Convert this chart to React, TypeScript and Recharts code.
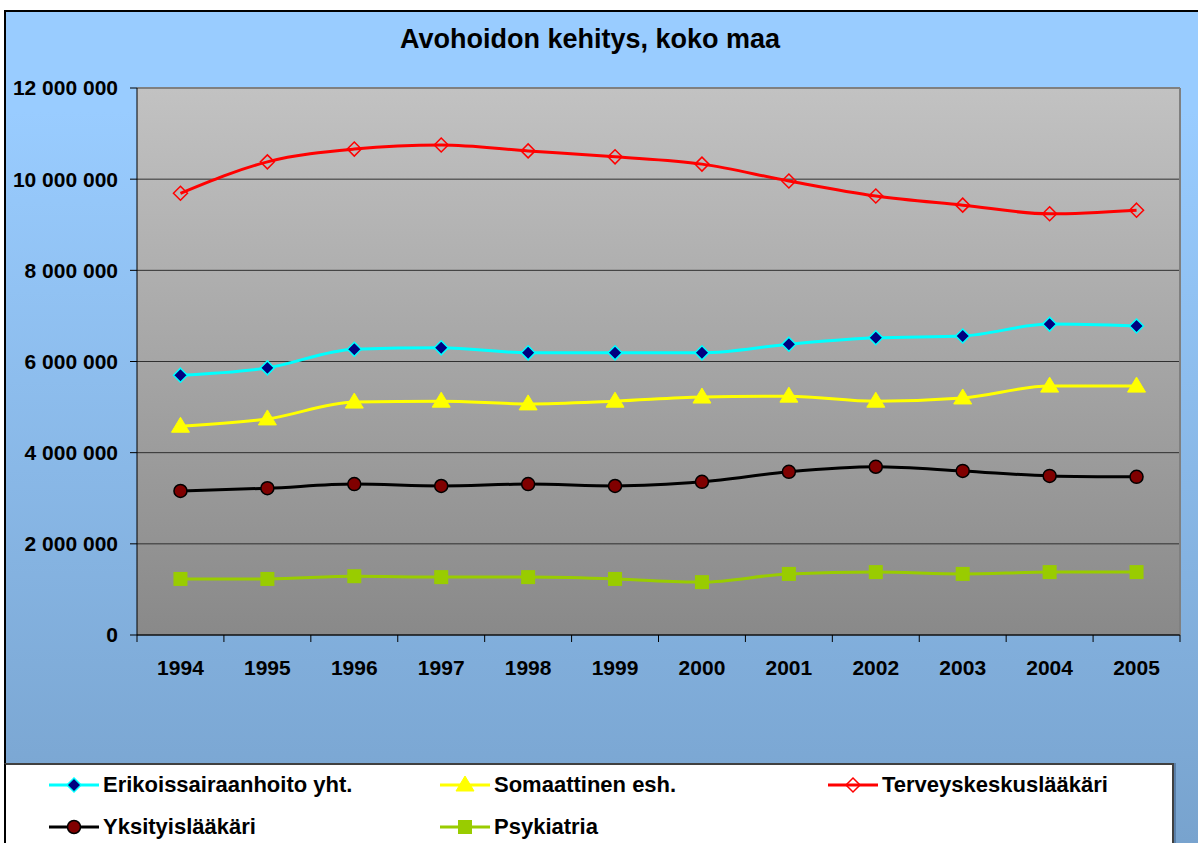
import { CartesianGrid, Line, LineChart, XAxis, YAxis } from 'recharts';

const years = ['1994', '1995', '1996', '1997', '1998', '1999', '2000', '2001', '2002', '2003', '2004', '2005'];
const erikoissairaanhoito = [5700000, 5860000, 6270000, 6300000, 6190000, 6190000, 6190000, 6380000, 6520000, 6560000, 6820000, 6780000];
const somaattinen = [4580000, 4740000, 5110000, 5130000, 5070000, 5130000, 5220000, 5240000, 5130000, 5200000, 5460000, 5460000];
const terveyskeskus = [9690000, 10380000, 10660000, 10750000, 10620000, 10490000, 10330000, 9960000, 9630000, 9430000, 9240000, 9320000];
const yksityis = [3160000, 3220000, 3310000, 3270000, 3310000, 3270000, 3360000, 3580000, 3690000, 3600000, 3490000, 3470000];
const psykiatria = [1230000, 1230000, 1290000, 1270000, 1270000, 1230000, 1160000, 1340000, 1380000, 1340000, 1380000, 1380000];
const yTicks = [0, 2000000, 4000000, 6000000, 8000000, 10000000, 12000000];

const FONT = '"Liberation Sans", Arial, sans-serif';

const rows = years.map((year, i) => ({
  year,
  erikois: erikoissairaanhoito[i],
  somaattinen: somaattinen[i],
  terveys: terveyskeskus[i],
  yksityis: yksityis[i],
  psykiatria: psykiatria[i],
}));

const fmt = (v: number): string => String(v).replace(/\B(?=(\d{3})+(?!\d))/g, ' ');

type Shape = 'diamond' | 'triangle' | 'hollowDiamond' | 'circle' | 'square';

function Marker(props: { shape: Shape; cx: number; cy: number }) {
  const { shape, cx, cy } = props;
  switch (shape) {
    case 'diamond':
      return <path d={`M${cx},${cy - 7}L${cx + 7},${cy}L${cx},${cy + 7}L${cx - 7},${cy}Z`} fill="#000080" stroke="#00FFFF" strokeWidth={1.5} />;
    case 'triangle':
      return <path d={`M${cx},${cy - 9}L${cx + 9},${cy + 6}L${cx - 9},${cy + 6}Z`} fill="#FFFF00" stroke="#FFFF00" strokeWidth={1} />;
    case 'hollowDiamond':
      return <path d={`M${cx},${cy - 7}L${cx + 7},${cy}L${cx},${cy + 7}L${cx - 7},${cy}Z`} fill="none" stroke="#FF0000" strokeWidth={1.5} />;
    case 'circle':
      return <circle cx={cx} cy={cy} r={6.5} fill="#800000" stroke="#000000" strokeWidth={1.5} />;
    default:
      return <rect x={cx - 7} y={cy - 7} width={14} height={14} fill="#99CC00" />;
  }
}

const series: { key: string; name: string; color: string; shape: Shape }[] = [
  { key: 'erikois', name: 'Erikoissairaanhoito yht.', color: '#00FFFF', shape: 'diamond' },
  { key: 'somaattinen', name: 'Somaattinen esh.', color: '#FFFF00', shape: 'triangle' },
  { key: 'terveys', name: 'Terveyskeskuslääkäri', color: '#FF0000', shape: 'hollowDiamond' },
  { key: 'yksityis', name: 'Yksityislääkäri', color: '#000000', shape: 'circle' },
  { key: 'psykiatria', name: 'Psykiatria', color: '#99CC00', shape: 'square' },
];

function YearTick(props: any) {
  const { x, y, payload, index } = props;
  const half = payload?.offset ?? 0;
  return (
    <g>
      <line x1={x - half} x2={x - half} y1={y - 7} y2={y} stroke="#000" strokeWidth={1} />
      {index === years.length - 1 ? (
        <line x1={x + half} x2={x + half} y1={y - 7} y2={y} stroke="#000" strokeWidth={1} />
      ) : null}
      <text x={x} y={y + 33} textAnchor="middle" fontFamily={FONT} fontWeight="bold" fontSize={21} fill="#000">
        {payload.value}
      </text>
    </g>
  );
}

function LegendItem(props: { name: string; color: string; shape: Shape; left: number; top: number }) {
  return (
    <div style={{ position: 'absolute', left: props.left, top: props.top, display: 'flex', alignItems: 'center', whiteSpace: 'nowrap' }}>
      <svg width={54} height={20} style={{ display: 'block' }}>
        <line x1={1} x2={51} y1={10} y2={10} stroke={props.color} strokeWidth={3} />
        <Marker shape={props.shape} cx={26} cy={10} />
      </svg>
      <span style={{ fontFamily: FONT, fontWeight: 'bold', fontSize: 22, color: '#000', marginLeft: 1 }}>{props.name}</span>
    </div>
  );
}

const legendPos = [
  { left: 48, top: 772 },
  { left: 439, top: 772 },
  { left: 827, top: 772 },
  { left: 48, top: 814 },
  { left: 439, top: 814 },
];

export default function App() {
  return (
    <div style={{ position: 'absolute', left: 0, top: 0, width: 1198, height: 843, overflow: 'hidden', background: '#fff' }}>
      <div
        style={{
          position: 'absolute',
          left: 4,
          top: 10,
          width: 1194,
          height: 833,
          boxSizing: 'border-box',
          borderLeft: '2px solid #000',
          borderTop: '2px solid #000',
          background: 'linear-gradient(180deg, #99CCFF 0%, #99CCFF 12%, #78A3CE 100%)',
        }}
      />
      <div
        style={{
          position: 'absolute',
          left: 0,
          top: 24,
          width: 1180,
          textAlign: 'center',
          fontFamily: FONT,
          fontWeight: 'bold',
          fontSize: 27,
          color: '#000',
        }}
      >
        Avohoidon kehitys, koko maa
      </div>
      <div style={{ position: 'absolute', left: 0, top: 0 }}>
        <LineChart width={1198} height={843} data={rows} margin={{ top: 88, right: 18, left: 17, bottom: 158 }}>
          <defs>
            <linearGradient id="plotBg" x1="0" y1="0" x2="0" y2="1">
              <stop offset="0%" stopColor="#C2C2C2" />
              <stop offset="100%" stopColor="#898989" />
            </linearGradient>
          </defs>
          <CartesianGrid vertical={false} stroke="#303030" strokeWidth={1} fill="url(#plotBg)" fillOpacity={1} />
          <CartesianGrid
            stroke="#808080"
            strokeWidth={2}
            horizontalCoordinatesGenerator={({ offset }: any) => [offset.top]}
            verticalCoordinatesGenerator={({ offset }: any) => [offset.left + offset.width]}
          />
          <XAxis
            dataKey="year"
            scale="band"
            interval={0}
            height={50}
            tickLine={false}
            tickSize={7}
            tickMargin={0}
            axisLine={{ stroke: '#000', strokeWidth: 1 }}
            tick={<YearTick />}
          />
          <YAxis
            domain={[0, 12000000]}
            ticks={yTicks}
            interval={0}
            width={120}
            tickSize={7}
            tickMargin={12}
            tickFormatter={fmt}
            axisLine={{ stroke: '#000', strokeWidth: 1 }}
            tickLine={{ stroke: '#000', strokeWidth: 1 }}
            tick={{ fill: '#000', fontSize: 21, fontWeight: 'bold', fontFamily: FONT }}
          />
          {series.map((s) => (
            <Line
              key={s.key}
              type="monotone"
              dataKey={s.key}
              name={s.name}
              stroke={s.color}
              strokeWidth={3}
              isAnimationActive={false}
              dot={(p: any) => <Marker key={`${s.key}-${p.index}`} shape={s.shape} cx={p.cx} cy={p.cy} />}
              activeDot={false}
            />
          ))}
        </LineChart>
      </div>
      <div
        style={{
          position: 'absolute',
          left: 4,
          top: 763,
          width: 1170,
          height: 100,
          boxSizing: 'border-box',
          background: '#fff',
          borderTop: '2px solid #404040',
          borderLeft: '2px solid #000',
          borderRight: '2px solid #404040',
          boxShadow: '2px 0 0 #5a7fa8',
        }}
      >
      </div>
      {series.map((s, i) => (
        <LegendItem key={s.key} name={s.name} color={s.color} shape={s.shape} left={legendPos[i].left} top={legendPos[i].top} />
      ))}
    </div>
  );
}
